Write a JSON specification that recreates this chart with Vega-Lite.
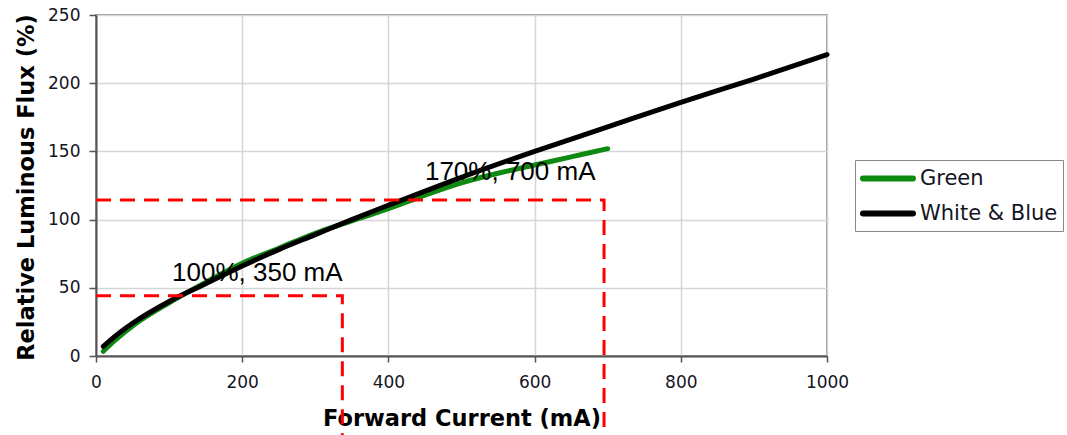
{
  "$schema": "https://vega.github.io/schema/vega-lite/v6.json",
  "width": 731,
  "height": 341,
  "autosize": {"type": "none"},
  "padding": {"left": 96, "top": 15, "right": 240, "bottom": 79},
  "background": "white",
  "config": {
    "view": {"stroke": "#9a9a9a", "strokeWidth": 2},
    "axis": {
      "gridColor": "#d6d6d6",
      "gridWidth": 1.5,
      "domainColor": "#555555",
      "domainWidth": 2,
      "tickColor": "#555555",
      "tickWidth": 1.5,
      "labelFont": "DejaVu Sans",
      "labelFontSize": 17,
      "labelColor": "#15151f",
      "labelFlush": false,
      "titleFont": "DejaVu Sans",
      "titleFontWeight": "bold",
      "titleFontSize": 22.5,
      "titleColor": "#000000"
    },
    "text": {"font": "Liberation Sans"}
  },
  "datasets": {
    "curves": [
      {"current": 10, "flux": 3.5, "series": "Green"},
      {"current": 25, "flux": 11, "series": "Green"},
      {"current": 50, "flux": 22, "series": "Green"},
      {"current": 100, "flux": 39, "series": "Green"},
      {"current": 150, "flux": 54, "series": "Green"},
      {"current": 200, "flux": 68, "series": "Green"},
      {"current": 250, "flux": 79, "series": "Green"},
      {"current": 300, "flux": 90, "series": "Green"},
      {"current": 350, "flux": 99, "series": "Green"},
      {"current": 400, "flux": 108, "series": "Green"},
      {"current": 450, "flux": 118, "series": "Green"},
      {"current": 500, "flux": 127, "series": "Green"},
      {"current": 550, "flux": 134, "series": "Green"},
      {"current": 600, "flux": 140, "series": "Green"},
      {"current": 650, "flux": 146, "series": "Green"},
      {"current": 700, "flux": 152, "series": "Green"},
      {"current": 10, "flux": 7, "series": "White & Blue"},
      {"current": 25, "flux": 14, "series": "White & Blue"},
      {"current": 50, "flux": 24, "series": "White & Blue"},
      {"current": 100, "flux": 40, "series": "White & Blue"},
      {"current": 150, "flux": 53, "series": "White & Blue"},
      {"current": 200, "flux": 66, "series": "White & Blue"},
      {"current": 250, "flux": 78, "series": "White & Blue"},
      {"current": 300, "flux": 89, "series": "White & Blue"},
      {"current": 350, "flux": 100, "series": "White & Blue"},
      {"current": 400, "flux": 110.5, "series": "White & Blue"},
      {"current": 500, "flux": 131, "series": "White & Blue"},
      {"current": 600, "flux": 150, "series": "White & Blue"},
      {"current": 700, "flux": 168, "series": "White & Blue"},
      {"current": 800, "flux": 186, "series": "White & Blue"},
      {"current": 900, "flux": 203, "series": "White & Blue"},
      {"current": 1000, "flux": 221, "series": "White & Blue"}
    ],
    "guides": [
      {"g": "a", "x": 0, "y": 44.2, "o": 1},
      {"g": "a", "x": 337, "y": 44.2, "o": 2},
      {"g": "a", "x": 337, "y": -62, "o": 3},
      {"g": "b", "x": 0, "y": 114.4, "o": 1},
      {"g": "b", "x": 695, "y": 114.4, "o": 2},
      {"g": "b", "x": 695, "y": -62, "o": 3}
    ],
    "labels": [
      {"x": 104, "y": 55, "text": "100%, 350 mA"},
      {"x": 450, "y": 129, "text": "170%, 700 mA"}
    ]
  },
  "layer": [
    {
      "data": {"name": "curves"},
      "mark": {"type": "line", "strokeWidth": 5, "strokeCap": "round", "interpolate": "monotone"},
      "encoding": {
        "x": {
          "field": "current", "type": "quantitative",
          "scale": {"domain": [0, 1000], "nice": false},
          "axis": {
            "values": [0, 200, 400, 600, 800, 1000],
            "format": "d",
            "tickSize": 6, "labelPadding": 12,
            "title": "Forward Current (mA)",
            "titleBaseline": "alphabetic", "titleY": 69
          }
        },
        "y": {
          "field": "flux", "type": "quantitative",
          "scale": {"domain": [0, 250], "nice": false},
          "axis": {
            "values": [0, 50, 100, 150, 200, 250],
            "tickSize": 7, "labelPadding": 9,
            "title": "Relative Luminous Flux (%)",
            "titleBaseline": "alphabetic", "titleX": -63, "titleY": 172
          }
        },
        "color": {
          "field": "series", "type": "nominal",
          "scale": {"domain": ["Green", "White & Blue"], "range": ["#0f8a10", "#000000"]},
          "legend": {
            "title": null,
            "orient": "none",
            "legendX": 759,
            "legendY": 145,
            "strokeColor": "#888888",
            "fillColor": "white",
            "padding": 5,
            "labelFont": "DejaVu Sans",
            "labelFontSize": 21,
            "labelColor": "#15151f",
            "labelOffset": 33,
            "rowPadding": 9,
            "symbolType": "M-1,0H3.76",
            "symbolSize": 441,
            "symbolStrokeWidth": 6,
            "encode": {"symbols": {"update": {"strokeCap": {"value": "round"}}}}
          }
        }
      }
    },
    {
      "data": {"name": "guides"},
      "mark": {"type": "line", "color": "#ff0000", "strokeWidth": 3, "strokeDash": [15, 9], "clip": false},
      "encoding": {
        "x": {"field": "x", "type": "quantitative"},
        "y": {"field": "y", "type": "quantitative"},
        "detail": {"field": "g"},
        "order": {"field": "o", "type": "quantitative"}
      }
    },
    {
      "data": {"name": "labels"},
      "mark": {"type": "text", "align": "left", "baseline": "alphabetic", "fontSize": 26, "color": "#000000", "font": "Liberation Sans"},
      "encoding": {
        "x": {"field": "x", "type": "quantitative"},
        "y": {"field": "y", "type": "quantitative"},
        "text": {"field": "text"}
      }
    }
  ]
}
